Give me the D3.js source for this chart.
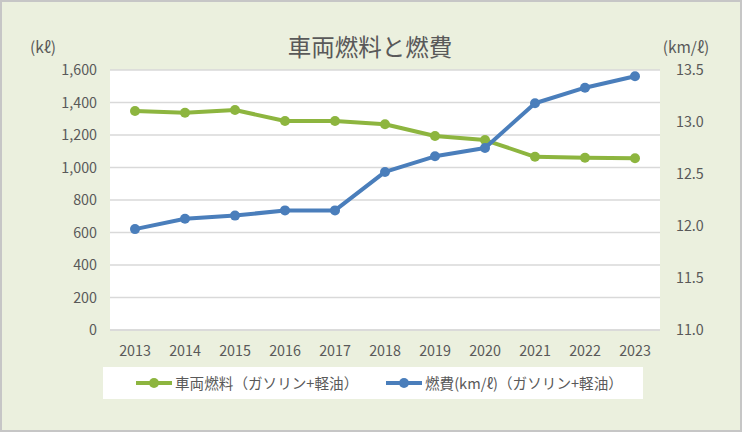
<!DOCTYPE html>
<html><head><meta charset="utf-8">
<script src="https://cdn.jsdelivr.net/npm/d3@7"></script>
<style>
html,body{margin:0;padding:0;background:#fff;}
svg{display:block;}
text{font-family:"Noto Sans CJK JP","Noto Sans",sans-serif;fill:#595959;}
</style></head>
<body>
<svg id="c" width="742" height="432"></svg>
<script>
const years = ["2013","2014","2015","2016","2017","2018","2019","2020","2021","2022","2023"];
const fuelVolume = [1348,1337,1354,1286,1286,1266,1194,1169,1066,1060,1057];
const fuelEconomy = [11.97,12.07,12.10,12.15,12.15,12.52,12.67,12.75,13.18,13.33,13.44];
const leftTicks = [0,200,400,600,800,1000,1200,1400,1600];
const rightTicks = [11.0,11.5,12.0,12.5,13.0,13.5];
const title = "車両燃料と燃費";
const leftUnit = "(kℓ)";
const rightUnit = "(km/ℓ)";
const seriesNames = ["車両燃料（ガソリン+軽油）","燃費(km/ℓ)（ガソリン+軽油）"];
const colors = ["#8DB53F","#4A7EBB"];

const svg = d3.select("#c");
const W = 742, H = 432;
svg.append("rect").attr("x",1).attr("y",1).attr("width",W-2).attr("height",H-2)
  .attr("fill","#EBF0DE").attr("stroke","#C6C6C6").attr("stroke-width",2);

const pl = 110, pr = 660, pt = 70, pb = 330;
svg.append("rect").attr("x",pl).attr("y",pt).attr("width",pr-pl).attr("height",pb-pt).attr("fill","#fff");

const x = d3.scaleBand().domain(years).range([pl,pr]).padding(0);
const yL = d3.scaleLinear().domain([0,1600]).range([pb,pt]);
const yR = d3.scaleLinear().domain([11,13.5]).range([pb,pt]);

// gridlines
svg.append("g").selectAll("line").data(leftTicks).join("line")
  .attr("x1",pl).attr("x2",pr).attr("y1",d=>yL(d)).attr("y2",d=>yL(d))
  .attr("stroke","#D9D9D9").attr("stroke-width",1.5);

// axes
const fmt = d3.format(",");
const gL = svg.append("g").attr("transform",`translate(${pl},0)`)
  .call(d3.axisLeft(yL).tickValues(leftTicks).tickFormat(fmt).tickSize(0).tickPadding(13));
const gR = svg.append("g").attr("transform",`translate(${pr},0)`)
  .call(d3.axisRight(yR).tickValues(rightTicks).tickFormat(d3.format(".1f")).tickSize(0).tickPadding(16));
const gX = svg.append("g").attr("transform",`translate(0,${pb})`)
  .call(d3.axisBottom(x).tickSize(0).tickPadding(16));
[gL,gR,gX].forEach(g=>{
  g.select(".domain").remove();
  g.selectAll("text").attr("font-size",14.3).attr("fill","#595959")
    .attr("font-family",'"Noto Sans","Noto Sans CJK JP",sans-serif');
});
svg.append("line").attr("x1",pl).attr("x2",pr).attr("y1",pb).attr("y2",pb)
  .attr("stroke","#D9D9D9").attr("stroke-width",1.5);

// lines
const cx = d=>x(d)+x.bandwidth()/2;
function drawSeries(vals, yScale, color){
  const line = d3.line().x((d,i)=>cx(years[i])).y(d=>yScale(d));
  svg.append("path").datum(vals).attr("d",line).attr("fill","none")
    .attr("stroke",color).attr("stroke-width",4).attr("stroke-linejoin","round");
  svg.append("g").selectAll("circle").data(vals).join("circle")
    .attr("cx",(d,i)=>cx(years[i])).attr("cy",d=>yScale(d)).attr("r",5).attr("fill",color);
}
drawSeries(fuelVolume, yL, colors[0]);
drawSeries(fuelEconomy, yR, colors[1]);

// titles
svg.append("text").attr("x",370).attr("y",56).attr("text-anchor","middle")
  .attr("font-size",23.5).text(title);
svg.append("text").attr("x",43).attr("y",53).attr("text-anchor","middle")
  .attr("font-size",15.5).text(leftUnit);
svg.append("text").attr("x",686).attr("y",53).attr("text-anchor","middle")
  .attr("font-size",15.5).text(rightUnit);

// legend
svg.append("rect").attr("x",103).attr("y",367).attr("width",540).attr("height",32).attr("fill","#fff");
const lx = [136,386];
seriesNames.forEach((n,i)=>{
  const g = svg.append("g");
  g.append("line").attr("x1",lx[i]).attr("x2",lx[i]+36).attr("y1",383).attr("y2",383)
    .attr("stroke",colors[i]).attr("stroke-width",4);
  g.append("circle").attr("cx",lx[i]+18).attr("cy",383).attr("r",5).attr("fill",colors[i]);
  g.append("text").attr("x",lx[i]+39).attr("y",388.5).attr("font-size",14.6).text(n);
});
</script>
</body></html>
